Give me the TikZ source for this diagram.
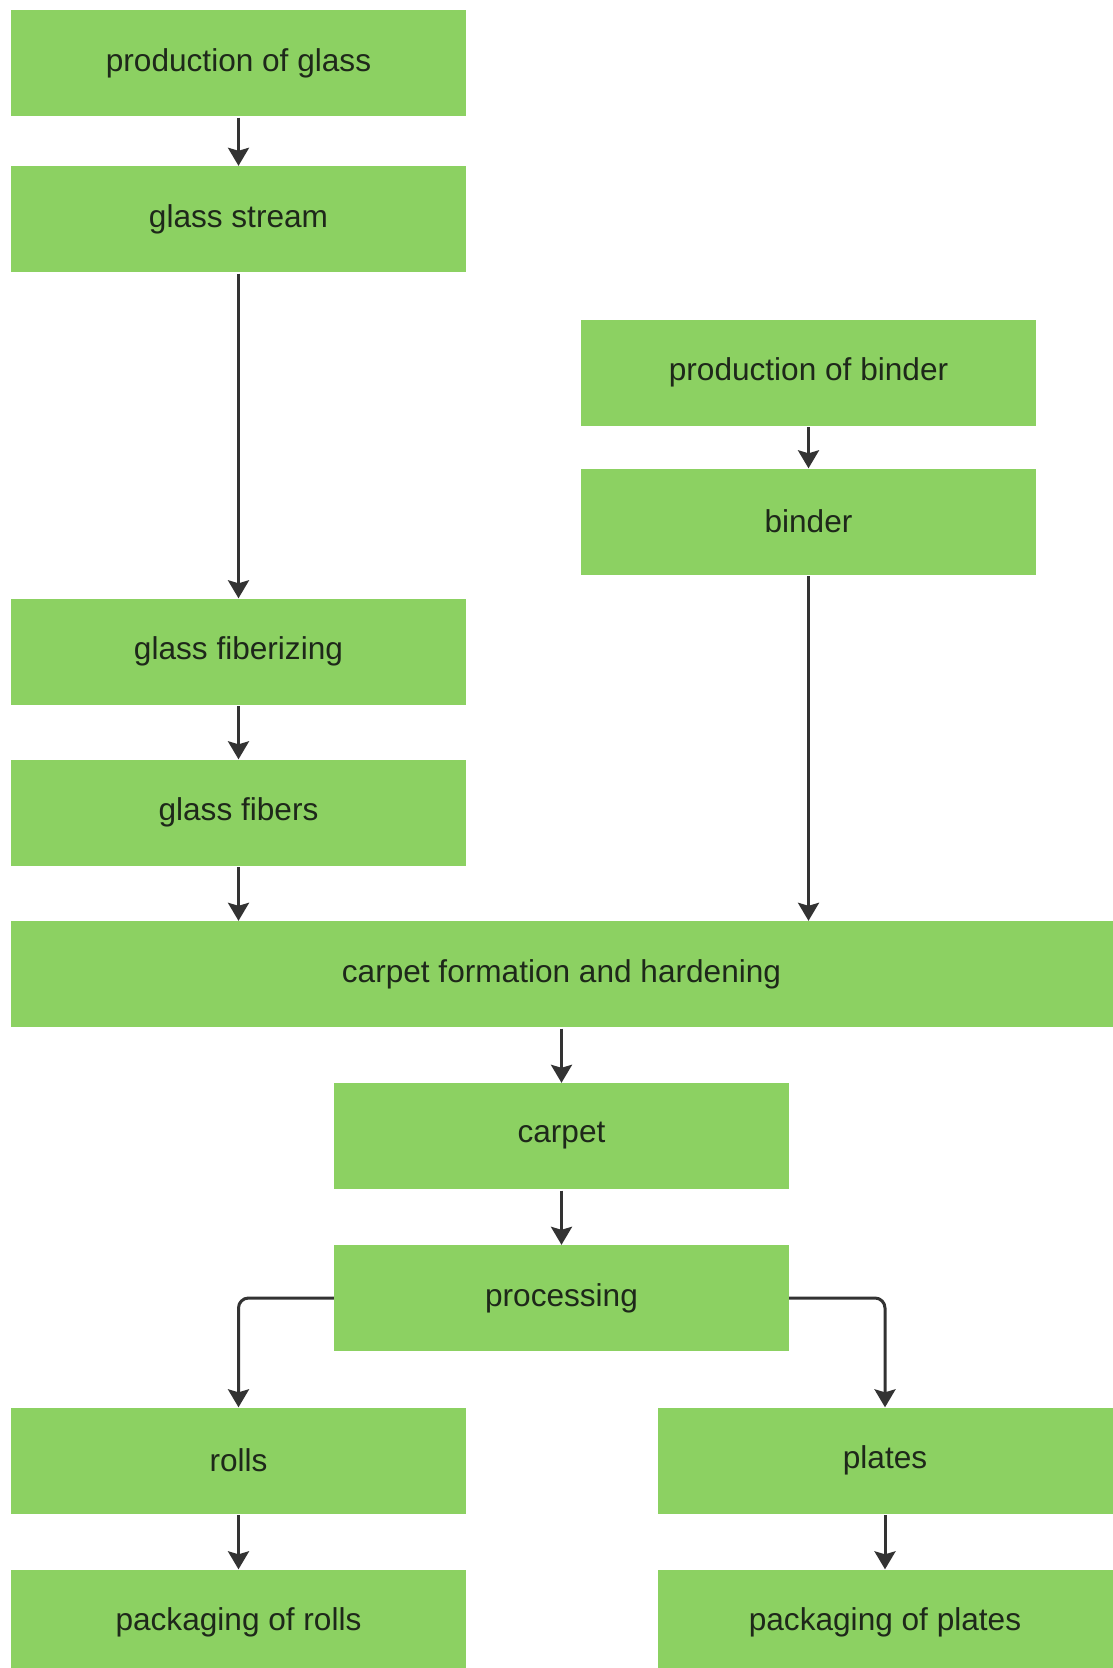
\documentclass[tikz,border=0pt]{standalone}
\usepackage{fontspec}
\setmainfont{Liberation Sans}
\usetikzlibrary{arrows.meta}
\definecolor{boxgreen}{RGB}{140,209,98}
\definecolor{txtdark}{RGB}{30,40,26}
\definecolor{arrowgray}{RGB}{51,51,51}
\begin{document}
\begin{tikzpicture}[x=1pt,y=-1pt,
  stepbox/.style={fill=boxgreen,draw=none,minimum width=455pt,minimum height=106pt,
    inner sep=0pt,text=txtdark,font=\fontsize{31.6}{38}\selectfont},
  flow/.style={draw=arrowgray,line width=3pt,
    -{Stealth[length=18pt,width=21pt,inset=3pt]},shorten <=1.5pt}]
\clip (0,0) rectangle (1113,1668);
\fill[white] (0,0) rectangle (1113,1668);
\node[stepbox] (pglass) at (238.5,63) {production of glass};
\node[stepbox] (gstream) at (238.5,219) {glass stream};
\node[stepbox] (pbinder) at (808.5,372.5) {production of binder};
\node[stepbox] (binder) at (808.5,521.5) {binder};
\node[stepbox] (fiberiz) at (238.5,651.5) {glass fiberizing};
\node[stepbox] (fibers) at (238.5,812.5) {glass fibers};
\node[stepbox,minimum width=1102pt] (cform) at (561.5,974) {carpet formation and hardening};
\node[stepbox] (carpet) at (561.5,1136) {carpet};
\node[stepbox] (proc) at (561.5,1298) {processing};
\node[stepbox] (rolls) at (238.5,1460.5) {rolls};
\node[stepbox] (plates) at (885,1460.5) {plates};
\node[stepbox] (prolls) at (238.5,1622.5) {packaging of rolls};
\node[stepbox] (pplates) at (885,1622.5) {packaging of plates};
\draw[flow] (pglass.south) -- (gstream.north);
\draw[flow] (gstream.south) -- (fiberiz.north);
\draw[flow] (fiberiz.south) -- (fibers.north);
\draw[flow] (fibers.south) -- (fibers.south |- cform.north);
\draw[flow] (pbinder.south) -- (binder.north);
\draw[flow] (binder.south) -- (binder.south |- cform.north);
\draw[flow] (cform.south -| carpet.north) -- (carpet.north);
\draw[flow] (carpet.south) -- (proc.north);
\draw[flow,rounded corners=10pt,shorten <=0pt] (proc.west) -| (rolls.north);
\draw[flow,rounded corners=10pt,shorten <=0pt] (proc.east) -| (plates.north);
\draw[flow] (rolls.south) -- (prolls.north);
\draw[flow] (plates.south) -- (pplates.north);
\end{tikzpicture}
\end{document}
